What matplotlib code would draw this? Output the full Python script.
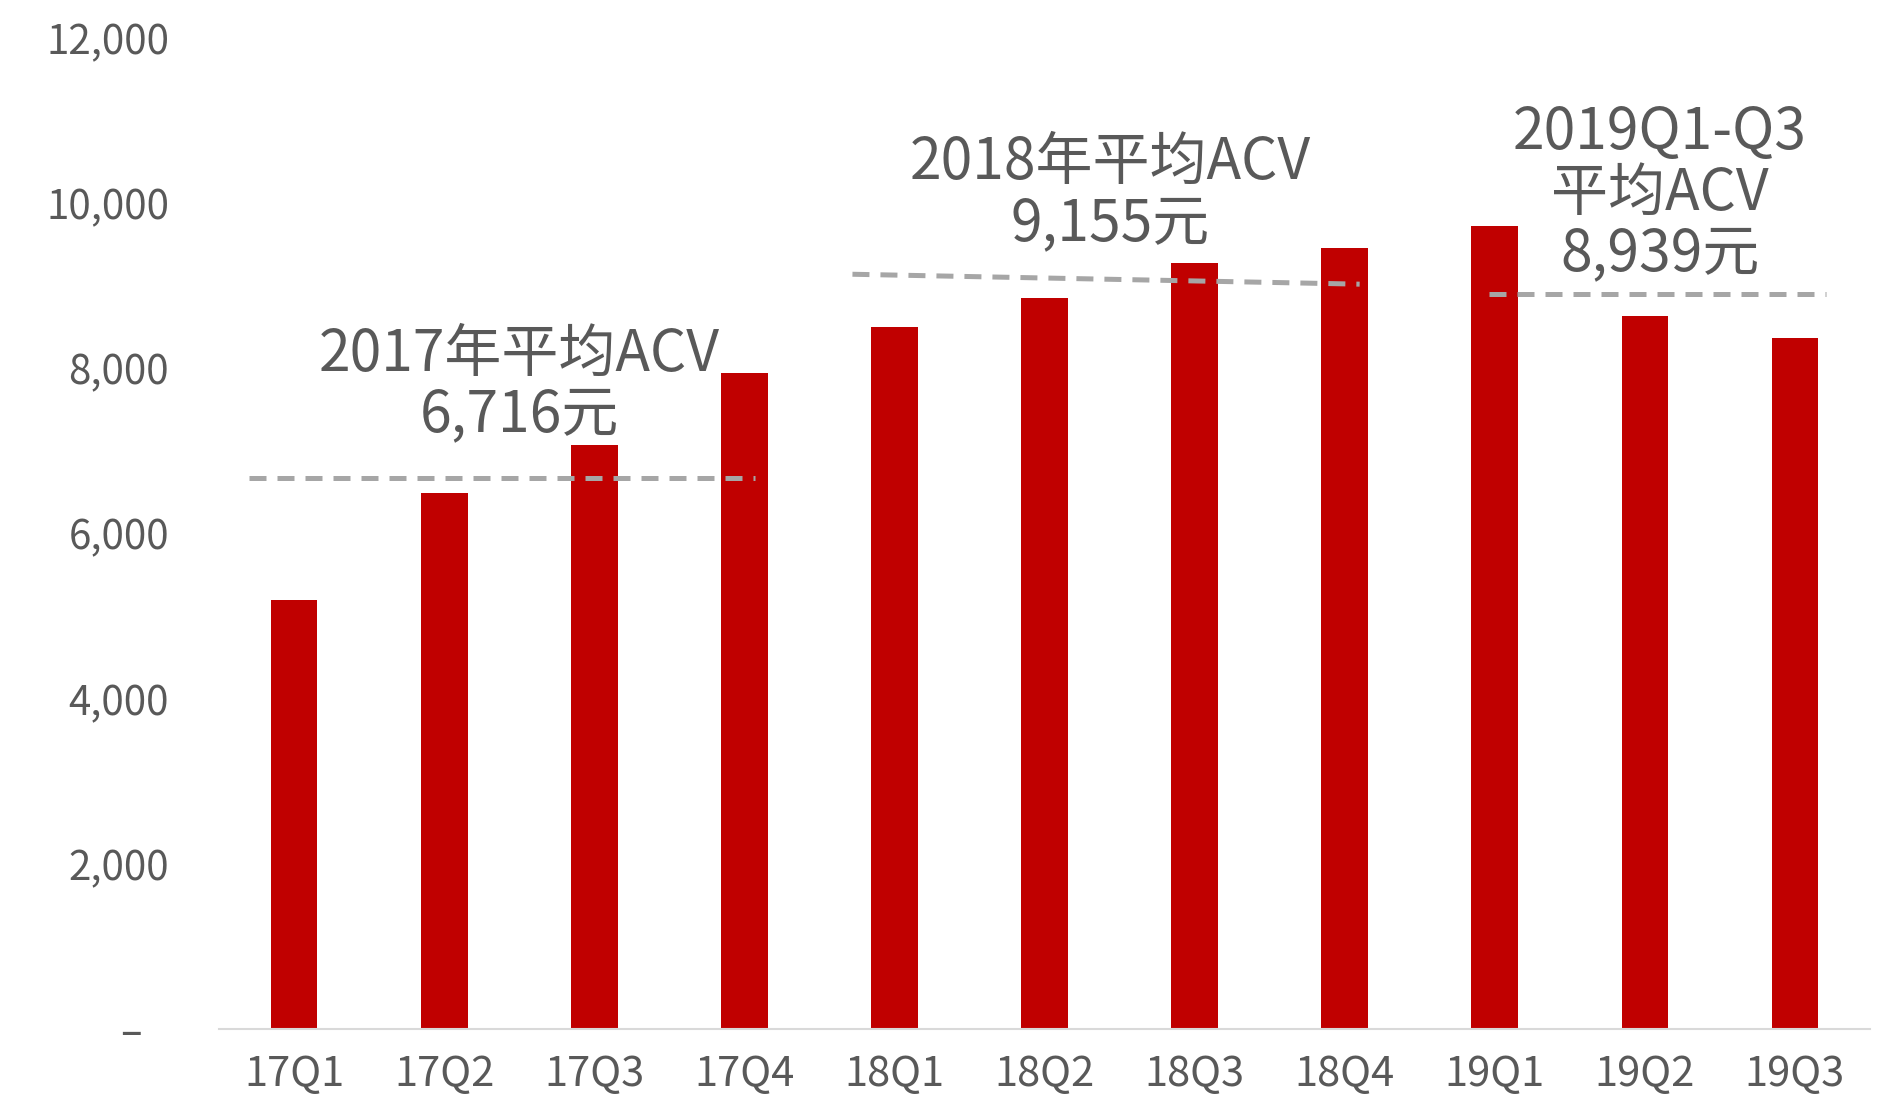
import numpy as np
import matplotlib
matplotlib.use("Agg")
import matplotlib.pyplot as plt
from matplotlib.ticker import FuncFormatter

plt.rcParams['font.family'] = ['Noto Sans CJK SC', 'DejaVu Sans']

# quarterly ACV (yuan)
quarters = ["17Q1", "17Q2", "17Q3", "17Q4", "18Q1", "18Q2", "18Q3",
            "18Q4", "19Q1", "19Q2", "19Q3"]
acv = [5200, 6490, 7070, 7950, 8500, 8850, 9280, 9460, 9730, 8630, 8370]

# yearly average lines: (x start, x end, y start, y end)
avg_x = [(-0.30, 3.07), (3.72, 7.10), (7.96, 10.21)]
avg_y = [(6670, 6670), (9140, 9020), (8900, 8900)]

labels = ["2017年平均ACV\n6,716元",
          "2018年平均ACV\n9,155元",
          "2019Q1-Q3\n平均ACV\n8,939元"]
label_pos = [(1.50, 7800), (5.44, 10120), (9.10, 10120)]

grey_text = "#595959"

fig = plt.figure(figsize=(18.8, 11.03), dpi=100)
ax = fig.add_axes([0.1166, 0.067, 0.878, 0.8985])

x = np.arange(len(quarters))
ax.bar(x, acv, width=0.31, color="#C00000", zorder=2)

for (x0, x1), (y0, y1) in zip(avg_x, avg_y):
    ax.plot([x0, x1], [y0, y1], color="#A6A6A6", lw=3.6,
            dashes=(3.4, 2.2), zorder=3)

for txt, (tx, ty) in zip(labels, label_pos):
    ax.text(tx, ty, txt, ha="center", va="center", fontsize=41,
            color=grey_text, linespacing=1.05, zorder=4)

ax.set_xlim(-0.5, 10.5)
ax.set_ylim(0, 12000)
ax.set_yticks(np.arange(0, 12001, 2000))
# accounting style: zero shown as a dash, set in from the right
ax.yaxis.set_major_formatter(FuncFormatter(
    lambda v, p: "–   " if v == 0 else f"{int(v):,}"))
ax.set_xticks(x)
ax.set_xticklabels(quarters)

ax.tick_params(axis="y", length=0, pad=36, labelsize=29, labelcolor=grey_text)
ax.tick_params(axis="x", length=0, pad=18, labelsize=30, labelcolor=grey_text)

for s in ["top", "right", "left"]:
    ax.spines[s].set_visible(False)
ax.spines["bottom"].set_color("#D9D9D9")
ax.spines["bottom"].set_linewidth(1.5)

plt.savefig("out.png", dpi=100)
